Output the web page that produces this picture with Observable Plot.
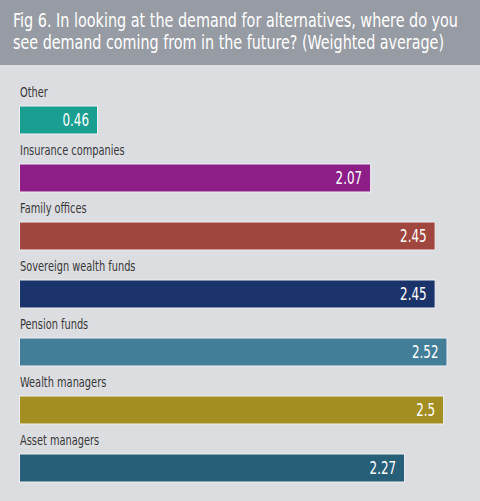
<!DOCTYPE html>
<html>
<head>
<meta charset="utf-8">
<script src="https://cdn.jsdelivr.net/npm/d3@7"></script>
<script src="https://cdn.jsdelivr.net/npm/@observablehq/plot@0.6"></script>
<style>
  html, body { margin: 0; padding: 0; background: #dcdde1; }
  #wrap { width: 480px; height: 501px; overflow: hidden; background: #dcdde1; }
  #title {
    height: 65px; box-sizing: border-box; background: #979ba3; color: #fff;
    font-family: "DejaVu Sans Condensed", "DejaVu Sans", sans-serif;
    font-size: 20px; line-height: 22px; padding: 9px 0 0 13px; white-space: nowrap;
  }
  #title span { display: inline-block; transform-origin: 0 50%; }
  svg { display: block; }
</style>
</head>
<body>
<div id="wrap">
  <div id="title"><span>Fig 6. In looking at the demand for alternatives, where do you</span><br><span>see demand coming from in the future? (Weighted average)</span></div>
  <div id="chart"></div>
</div>
<script>
const categories = ["Other", "Insurance companies", "Family offices", "Sovereign wealth funds", "Pension funds", "Wealth managers", "Asset managers"];
const values = [0.46, 2.07, 2.45, 2.45, 2.52, 2.5, 2.27];
const colors = ["#1b9e92", "#8d1e88", "#a0463e", "#1b336b", "#437e99", "#a38e22", "#275e78"];

const data = categories.map((c, i) => ({category: c, value: values[i], color: colors[i]}));
const font = '"DejaVu Sans Condensed", "DejaVu Sans", sans-serif';

const chart = Plot.plot({
  width: 480,
  height: 436,
  marginLeft: 19.5,
  marginRight: 33,
  marginTop: 41,
  marginBottom: 18,
  style: {background: "#dcdde1", fontFamily: font},
  x: {domain: [0, d3.max(values)], axis: null},
  y: {domain: categories, axis: null, paddingInner: 0.509, paddingOuter: 0},
  marks: [
    Plot.barX(data, {x: "value", y: "category", fill: "color", stroke: "#eef0f2", strokeWidth: 1}),
    Plot.text(data, {x: 0, y: "category", text: "category", textAnchor: "start", dy: -28, fill: "#383838", fontSize: 14}),
    Plot.text(data, {x: "value", y: "category", text: d => String(d.value), textAnchor: "end", dx: -9, fill: "#fff", fontSize: 17})
  ]
});
document.getElementById("chart").appendChild(chart);

// condense text horizontally to match the narrow typeface of the original
chart.querySelectorAll("text").forEach(t => {
  const x = +t.getAttribute("x") || 0, y = +t.getAttribute("y") || 0;
  const tr = t.getAttribute("transform") || "";
  t.setAttribute("transform", `${tr} translate(${x},${y}) scale(0.78,1) translate(${-x},${-y})`);
});
const targets = [445, 431];
document.querySelectorAll("#title span").forEach((s, i) => {
  const w = s.getBoundingClientRect().width;
  s.style.transform = `scaleX(${targets[i] / w})`;
});
</script>
</body>
</html>
